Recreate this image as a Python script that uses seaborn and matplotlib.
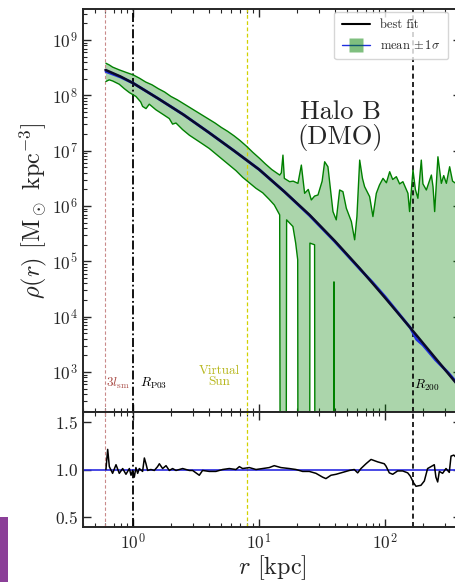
import numpy as np
import matplotlib
matplotlib.use("Agg")
import matplotlib.pyplot as plt
from matplotlib.lines import Line2D
from matplotlib.patches import Rectangle
from matplotlib.ticker import FixedLocator, LogLocator, NullFormatter
import seaborn as sns

# best fit profile (log10 r [kpc], log10 rho)
fit_log_r = [-0.22, -0.1, 0.0, 0.2, 0.4, 0.6, 0.8, 1.0, 1.2, 1.4, 1.6, 1.8, 2.0, 2.2, 2.4, 2.6]
fit_log_rho = [8.46, 8.34, 8.22, 7.94, 7.65, 7.33, 7.00, 6.66, 6.26, 5.84, 5.37, 4.87, 4.34, 3.80, 3.25, 2.70]

# mean profile
mean_log_r = [-0.216, -0.1, 0.0, 0.2, 0.4, 0.6, 0.8, 1.0, 1.2, 1.4, 1.6, 1.8, 1.9, 2.0, 2.1,
              2.2, 2.25, 2.3, 2.4, 2.5, 2.56]
mean_log_rho = [8.43, 8.33, 8.22, 7.94, 7.65, 7.33, 7.00, 6.66, 6.26, 5.83, 5.36, 4.86, 4.62, 4.36, 4.08,
                3.80, 3.59, 3.49, 3.22, 2.99, 2.83]

# mean + 1 sigma
upper_log_r = [-0.216, -0.19, -0.163, -0.11, -0.05, 0.0, 0.05, 0.1, 0.15, 0.2, 0.25, 0.3, 0.35, 0.4,
               0.45, 0.5, 0.55, 0.6, 0.65, 0.7, 0.75, 0.8, 0.845, 0.9, 0.95, 1.004, 1.05, 1.10, 1.163,
               1.176, 1.189, 1.20, 1.242, 1.27, 1.308, 1.335, 1.361, 1.39, 1.414, 1.44, 1.467, 1.50,
               1.520, 1.546, 1.586, 1.612, 1.639, 1.665, 1.692, 1.732, 1.758, 1.776, 1.798, 1.82,
               1.837, 1.877, 1.903, 1.930, 1.955, 1.983, 2.01, 2.036, 2.06, 2.089, 2.115, 2.141,
               2.181, 2.194, 2.221, 2.240, 2.260, 2.287, 2.30, 2.327, 2.367, 2.38, 2.393, 2.419,
               2.446, 2.465, 2.486, 2.512, 2.535, 2.560]
upper_log_rho = [8.58, 8.55, 8.51, 8.46, 8.41, 8.37, 8.31, 8.24, 8.19, 8.12, 8.06, 7.98, 7.92, 7.85,
                 7.78, 7.71, 7.64, 7.57, 7.50, 7.42, 7.35, 7.27, 7.19, 7.08, 6.97, 6.86, 6.76, 6.66, 6.56,
                 6.60, 6.92, 6.50, 6.44, 6.45, 6.41, 6.74, 6.23, 6.30, 6.11, 6.18, 6.20, 6.45,
                 6.80, 6.71, 5.90, 5.75, 6.29, 6.26, 5.96, 5.72, 5.39, 5.81, 6.83, 6.50,
                 6.35, 6.17, 5.81, 6.23, 6.38, 6.50, 6.42, 6.62, 6.48, 6.53, 6.40, 6.44,
                 6.23, 5.90, 6.65, 6.30, 6.14, 6.83, 6.40, 6.29, 6.56, 6.35, 5.90, 6.89,
                 6.41, 6.55, 6.41, 6.71, 6.45, 6.41]

# mean - 1 sigma (-3 where the band reaches zero)
lower_log_r = [-0.216, -0.19, -0.163, -0.11, -0.07, -0.03, 0.022, 0.06, 0.075, 0.102, 0.128, 0.18,
               0.234, 0.287, 0.313, 0.34, 0.393, 0.446, 0.499, 0.552, 0.604, 0.657, 0.71, 0.763,
               0.816, 0.869, 0.922, 0.975, 1.028, 1.08, 1.12, 1.163, 1.170, 1.212, 1.218, 1.268,
               1.290, 1.306, 1.310, 1.400, 1.403, 1.44, 1.445, 1.590, 1.594, 1.598, 2.60]
lower_log_rho = [8.25, 8.28, 8.26, 8.20, 8.12, 8.05, 7.98, 7.88, 7.80, 7.76, 7.84, 7.74,
                 7.66, 7.58, 7.48, 7.50, 7.38, 7.28, 7.20, 7.12, 7.04, 6.94, 6.84, 6.74,
                 6.64, 6.52, 6.42, 6.32, 6.24, 6.12, 6.02, 5.84, -3, -3, 5.75, 5.63,
                 5.33, 5.03, -3, -3, 5.33, 5.30, -3, -3, 4.63, -3, -3]

# mean / best fit
ratio_log_r = [-0.216, -0.202, -0.189, -0.163, -0.136, -0.110, -0.083, -0.057, -0.030, -0.017,
               -0.004, 0.009, 0.022, 0.036, 0.049, 0.075, 0.089, 0.102, 0.115, 0.141, 0.168,
               0.194, 0.208, 0.234, 0.261, 0.287, 0.313, 0.340, 0.393, 0.446, 0.472, 0.525,
               0.551, 0.604, 0.657, 0.710, 0.763, 0.816, 0.843, 0.869, 0.922, 0.975, 1.028,
               1.080, 1.120, 1.173, 1.239, 1.292, 1.345, 1.398, 1.451, 1.504, 1.530, 1.570,
               1.610, 1.663, 1.716, 1.755, 1.782, 1.808, 1.848, 1.888, 1.940, 1.993, 2.007,
               2.033, 2.060, 2.099, 2.139, 2.179, 2.200, 2.226, 2.245, 2.284, 2.311, 2.337,
               2.364, 2.390, 2.403, 2.417, 2.430, 2.456, 2.483, 2.509, 2.523, 2.545, 2.560]
ratio = [1.00, 1.21, 1.03, 0.96, 1.05, 0.96, 1.01, 0.95, 1.01, 0.94,
         0.99, 0.92, 1.02, 0.96, 1.01, 0.98, 1.12, 1.06, 0.99, 1.00, 0.99,
         1.03, 1.06, 1.01, 1.04, 0.99, 1.01, 0.99, 1.01, 0.99, 0.99, 0.94,
         0.99, 0.98, 0.98, 1.00, 1.01, 1.00, 1.03, 1.01, 1.02, 1.00, 1.01,
         1.02, 1.04, 1.02, 1.01, 1.00, 0.98, 0.98, 0.96, 0.92, 0.905, 0.94,
         0.95, 0.97, 0.99, 1.00, 0.965, 1.01, 1.06, 1.105, 1.08, 1.06, 1.035,
         0.965, 0.95, 0.985, 0.985, 0.965, 0.93, 0.86, 0.825, 0.835, 0.88, 1.01,
         1.03, 1.05, 0.92, 0.87, 0.98, 0.96, 1.01, 0.97, 1.14, 1.15, 1.13]

# reference radii [kpc]
r_sm = 0.60
r_p03 = 1.0
r_sun = 8.0
r_200 = 165.0

rho_ticks = [1e3, 1e4, 1e5, 1e6, 1e7, 1e8, 1e9]
r_ticks = [1.0, 10.0, 100.0]

sns.set_style("ticks")
plt.rcParams["font.family"] = ["cmr10", "DejaVu Serif"]
plt.rcParams["mathtext.fontset"] = "cm"
plt.rcParams["axes.formatter.use_mathtext"] = True
plt.rcParams["axes.unicode_minus"] = False


def lin(vals):
    return 10.0 ** np.asarray(vals, dtype=float)


fig = plt.figure(figsize=(4.56, 5.82), dpi=100)
ax = fig.add_axes([83 / 456, 1 - 412 / 582, 378 / 456, 403 / 582])
axr = fig.add_axes([83 / 456, 1 - 527 / 582, 378 / 456, 115 / 582], sharex=ax)

for a in (ax, axr):
    a.set_xscale("log")
ax.set_yscale("log")

# green band
band_r = np.concatenate([lin(upper_log_r), lin(lower_log_r)[::-1]])
band_rho = np.concatenate([lin(upper_log_rho), lin(lower_log_rho)[::-1]])
ax.fill(band_r, band_rho, color="green", alpha=0.33, lw=0, zorder=1)
sns.lineplot(x=lin(upper_log_r), y=lin(upper_log_rho), ax=ax, color="green", lw=1.0,
             sort=False, estimator=None, zorder=2)
sns.lineplot(x=lin(lower_log_r), y=lin(lower_log_rho), ax=ax, color="green", lw=1.0,
             sort=False, estimator=None, zorder=2)
sns.lineplot(x=lin(mean_log_r), y=lin(mean_log_rho), ax=ax, color="#1f2fe0", lw=2.0,
             sort=False, estimator=None, zorder=3)
sns.lineplot(x=lin(fit_log_r), y=lin(fit_log_rho), ax=ax, color="#0a0a28", lw=1.8,
             sort=False, estimator=None, zorder=4)

# ratio panel
axr.axhline(1.0, color="#2a2ae0", lw=1.2, zorder=2)
sns.lineplot(x=lin(ratio_log_r), y=ratio, ax=axr, color="black", lw=1.1,
             sort=False, estimator=None, zorder=3)

for a in (ax, axr):
    a.axvline(r_sm, color="#c98a8a", lw=0.8, ls=(0, (3, 2)), zorder=1.5)
    a.axvline(r_p03, color="black", lw=1.3, ls=(0, (5, 1.5, 1, 1.5)), zorder=1.5)
    a.axvline(r_sun, color="#d2d200", lw=0.9, ls=(0, (3, 2)), zorder=1.5)
    a.axvline(r_200, color="black", lw=1.2, ls=(0, (3, 2)), zorder=1.5)

ax.set_xlim(0.4, 400)
ax.set_ylim(190, 3.63e9)
axr.set_ylim(0.4, 1.6)
axr.set_yticks([0.5, 1.0, 1.5])
ax.yaxis.set_major_locator(FixedLocator(rho_ticks))
ax.yaxis.set_minor_locator(LogLocator(base=10, subs=np.arange(2, 10), numticks=20))
ax.yaxis.set_minor_formatter(NullFormatter())
axr.xaxis.set_major_locator(FixedLocator(r_ticks))
axr.xaxis.set_minor_locator(LogLocator(base=10, subs=np.arange(2, 10), numticks=20))
axr.xaxis.set_minor_formatter(NullFormatter())

trans = ax.get_xaxis_transform()
ax.text(0.76, 0.072, r"$3l_{\rm sm}$", transform=trans, color="#a84a44", fontsize=9.5,
        ha="center", va="center")
ax.text(1.44, 0.072, r"$R_{\rm P03}$", transform=trans, color="black", fontsize=9.5,
        ha="center", va="center")
ax.text(4.8, 0.088, "Virtual\nSun", transform=trans, color="#b8b820", fontsize=9.5,
        ha="center", va="center", linespacing=0.95)
ax.text(213, 0.067, r"$R_{200}$", transform=trans, color="black", fontsize=9.5,
        ha="center", va="center")
ax.text(0.68, 0.71, "Halo B\n(DMO)", transform=ax.transAxes, fontsize=19,
        ha="center", va="center", linespacing=1.0)

handles = [Line2D([], [], color="black", lw=1.5),
           Line2D([], [], color="#1f2fe0", lw=1.0, marker="s", markersize=10,
                  markerfacecolor=(0.0, 0.5, 0.0, 0.5), markeredgecolor="none")]
ax.legend(handles, ["best fit", r"mean $\pm\,1\sigma$"], loc="upper right",
          bbox_to_anchor=(0.966, 0.993), borderaxespad=0, fontsize=9, handlelength=2.3,
          borderpad=0.6, labelspacing=0.6, numpoints=1,
          frameon=True, fancybox=True, framealpha=0.8, edgecolor="#cccccc")

ax.set_ylabel(r"$\rho(r)$ [M$_\odot$ kpc$^{-3}$]", fontsize=17.5, labelpad=2)
axr.set_xlabel(r"$r$ [kpc]", fontsize=17.5, labelpad=1)
ax.tick_params(labelbottom=False)

for a in (ax, axr):
    a.tick_params(which="both", direction="in", top=True, right=True, labelsize=12.5)
    a.tick_params(which="major", length=5.5, width=1.0)
    a.tick_params(which="minor", length=2.8, width=0.8)
    for s in a.spines.values():
        s.set_linewidth(1.4)

fig.add_artist(Rectangle((0, 0), 8 / 456, 65 / 582, transform=fig.transFigure,
                         facecolor="#8b3f98", edgecolor="none"))

fig.savefig("out.png", dpi=100)
